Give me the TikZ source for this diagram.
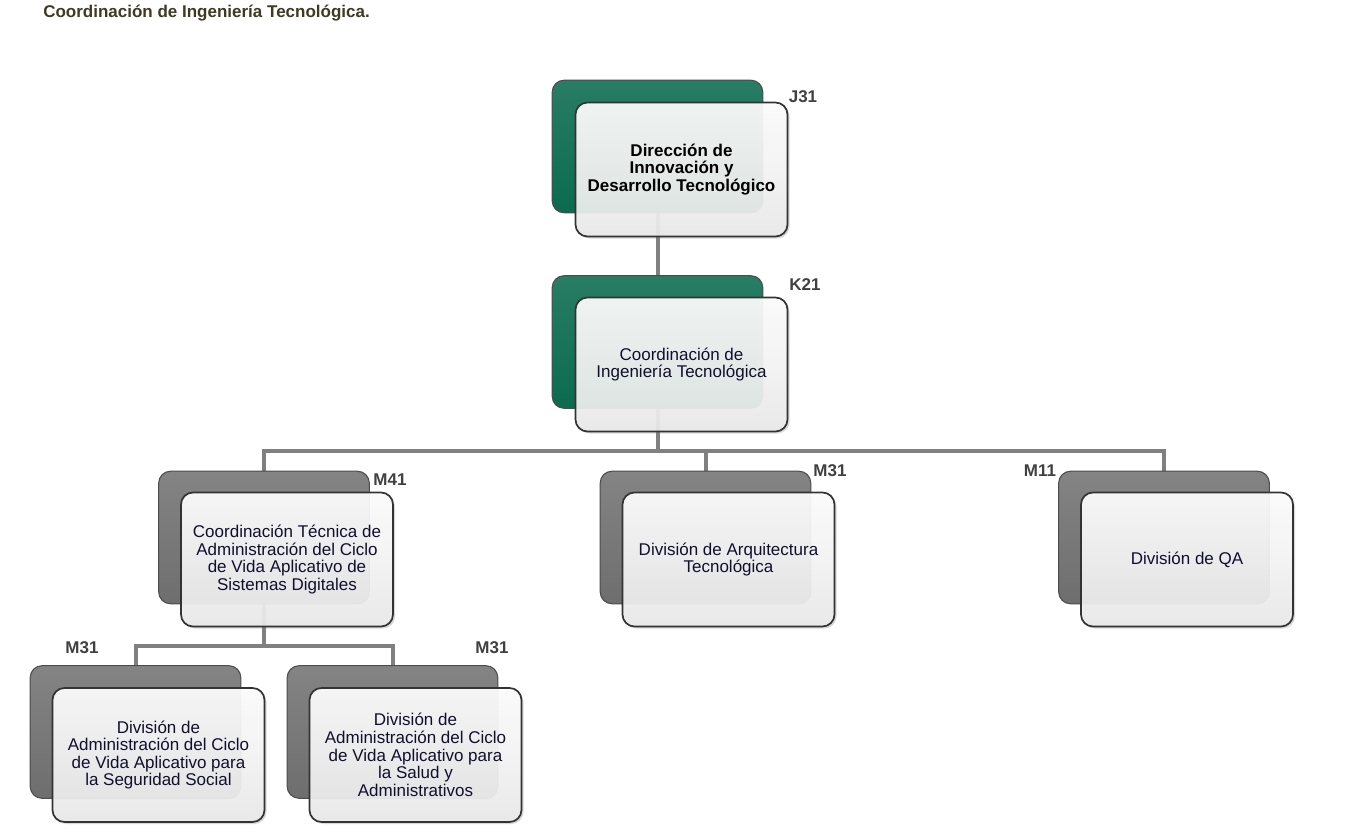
\documentclass[tikz,border=0pt]{standalone}
\usepackage{fontspec}
\setmainfont{Liberation Sans}
\usetikzlibrary{backgrounds,shadows}

\definecolor{dgreen}{HTML}{0B6B4F}
\definecolor{dgray}{HTML}{6E6E6E}
\definecolor{lgray}{HTML}{808080}
\definecolor{navy}{HTML}{10102E}
\definecolor{olive}{HTML}{3F3A22}

\begin{document}
\begin{tikzpicture}[x=0.75pt, y=-0.75pt,
	back node/.style={rounded corners=9pt, draw=black!70, line width=0.8pt,
		minimum width=158pt, minimum height=99.5pt, inner sep=0pt},
	green node/.style={back node, top color=dgreen!88!white, bottom color=dgreen},
	gray node/.style={back node, top color=dgray!85!white, bottom color=dgray},
	main node/.style={rounded corners=9pt, draw=black!80, line width=1.3pt,
		top color=white, bottom color=black!8, fill opacity=0.92, text opacity=1,
		minimum width=159pt, minimum height=100.5pt, inner sep=2pt, align=center,
		text=navy, font=\fontsize{12.75}{13.2}\selectfont,
		drop shadow={opacity=0.3, shadow xshift=1.5pt, shadow yshift=-1.5pt}},
	code node/.style={font=\bfseries\fontsize{12.75}{14}\selectfont, text=black!75},
	link/.style={draw=lgray, line width=3pt}]

	\useasboundingbox (0,0) rectangle (1361,835);

	\node[font=\bfseries\fontsize{12.75}{14}\selectfont, text=olive, anchor=west, inner sep=0pt] (title)
		at (43,13) {Coordinación de Ingeniería Tecnológica.};

	% back boxes
	\node[green node] (b1) at (657.5,146.5) {};
	\node[green node] (b2) at (657.5,342) {};
	\node[gray node] (b3) at (264,537.5) {};
	\node[gray node] (b4) at (705.5,537.5) {};
	\node[gray node] (b5) at (1164,537.5) {};
	\node[gray node] (b6) at (135.5,732) {};
	\node[gray node] (b7) at (392.5,732) {};

	% front boxes
	\node[main node, text=black, font=\bfseries\fontsize{12.75}{13.2}\selectfont] (1)
		at (681.5,169.5) {Dirección de\\Innovación y\\Desarrollo Tecnológico};
	\node[main node] (2) at (681.5,364.5) {Coordinación de\\Ingeniería Tecnológica};
	\node[main node] (3) at (287,559.5) {Coordinación Técnica de\\Administración del Ciclo\\de Vida Aplicativo de\\Sistemas Digitales};
	\node[main node] (4) at (728.5,559.5) {División de Arquitectura\\Tecnológica};
	\node[main node] (5) at (1187,559.5) {División de QA};
	\node[main node] (6) at (158.5,755) {División de\\Administración del Ciclo\\de Vida Aplicativo para\\la Seguridad Social};
	\node[main node] (7) at (415.5,755) {División de\\Administración del Ciclo\\de Vida Aplicativo para\\la Salud y\\Administrativos};

	% codes
	\node[code node] (l1) at (803,97) {J31};
	\node[code node] (l2) at (805,285) {K21};
	\node[code node] (l3) at (390,480) {M41};
	\node[code node] (l4) at (830,471) {M31};
	\node[code node] (l5) at (1040,471) {M11};
	\node[code node] (l6) at (82,648) {M31};
	\node[code node] (l7) at (492,648) {M31};

	% connectors
	\begin{scope}[on background layer]
		\coordinate (j1) at (657.5,451);
		\coordinate (j2) at (264,646);
		\draw[link] (b1) -- (b2);
		\draw[link] (b2) -- (j1);
		\draw[link] (b3.north) |- (j1) -| (b5.north);
		\draw[link] (b4.north) -- (b4.north |- j1);
		\draw[link] (b3) -- (j2);
		\draw[link] (b6.north) |- (j2) -| (b7.north);
	\end{scope}

\end{tikzpicture}
\end{document}
